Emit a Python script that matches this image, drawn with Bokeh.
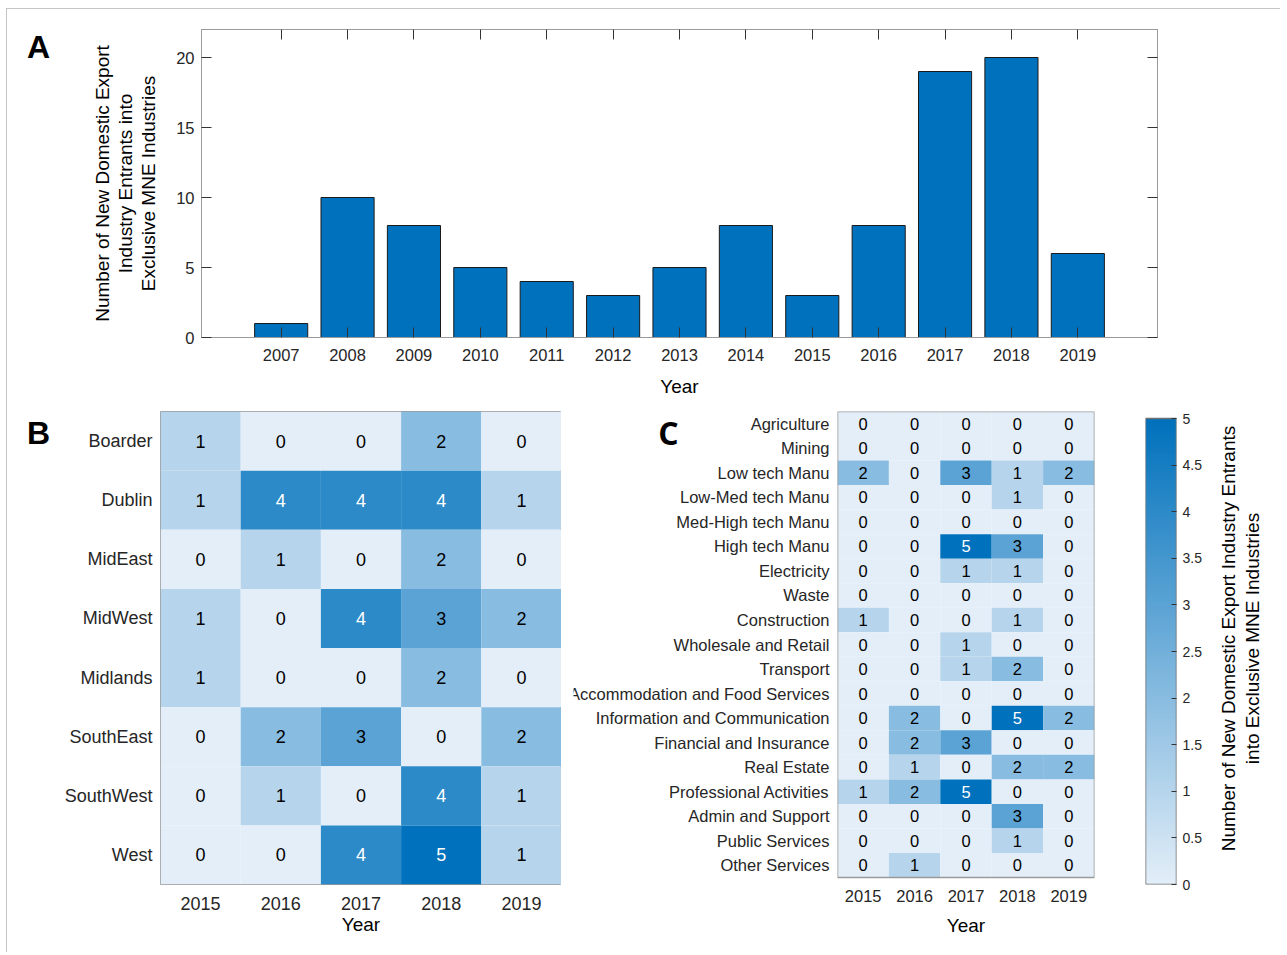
import numpy as np
from bokeh.plotting import figure
from bokeh.models import Range1d, FactorRange, LinearColorMapper, LinearAxis, ColumnDataSource, InlineStyleSheet
from bokeh.layouts import column, row
from bokeh.transform import transform
from bokeh.core.properties import value
from bokeh.embed import file_html
from bokeh.resources import INLINE

# ---------------- data ----------------
years_a = [2007, 2008, 2009, 2010, 2011, 2012, 2013, 2014, 2015, 2016, 2017, 2018, 2019]
entrants_a = [1, 10, 8, 5, 4, 3, 5, 8, 3, 8, 19, 20, 6]
yticks_a = [0, 5, 10, 15, 20]

years_bc = ["2015", "2016", "2017", "2018", "2019"]

regions = ["Boarder", "Dublin", "MidEast", "MidWest", "Midlands", "SouthEast", "SouthWest", "West"]
region_2015 = [1, 1, 0, 1, 1, 0, 0, 0]
region_2016 = [0, 4, 1, 0, 0, 2, 1, 0]
region_2017 = [0, 4, 0, 4, 0, 3, 0, 4]
region_2018 = [2, 4, 2, 3, 2, 0, 4, 5]
region_2019 = [0, 1, 0, 2, 0, 2, 1, 1]

industries = ["Agriculture", "Mining", "Low tech Manu", "Low-Med tech Manu", "Med-High tech Manu",
              "High tech Manu", "Electricity", "Waste", "Construction", "Wholesale and Retail",
              "Transport", "Accommodation and Food Services", "Information and Communication",
              "Financial and Insurance", "Real Estate", "Professional Activities",
              "Admin and Support", "Public Services", "Other Services"]
industry_2015 = [0, 0, 2, 0, 0, 0, 0, 0, 1, 0, 0, 0, 0, 0, 0, 1, 0, 0, 0]
industry_2016 = [0, 0, 0, 0, 0, 0, 0, 0, 0, 0, 0, 0, 2, 2, 1, 2, 0, 0, 1]
industry_2017 = [0, 0, 3, 0, 0, 5, 1, 0, 0, 1, 1, 0, 0, 3, 0, 5, 0, 0, 0]
industry_2018 = [0, 0, 1, 1, 0, 3, 1, 0, 1, 0, 2, 0, 5, 0, 2, 0, 3, 1, 0]
industry_2019 = [0, 0, 2, 0, 0, 0, 0, 0, 0, 0, 0, 0, 2, 0, 2, 0, 0, 0, 0]

cbar_low, cbar_high = 0, 5
cbar_ticks = [0, 0.5, 1, 1.5, 2, 2.5, 3, 3.5, 4, 4.5, 5]

# ---------------- styling ----------------
FONT = "Liberation Sans"
BAR = "#0072BD"
FRAME = "#9a9a9a"
TICK = "#333333"
LABEL = "#262626"
lo = np.array([227, 238, 248]); hi = np.array([0, 113, 188])
palette = ["#%02x%02x%02x" % tuple(int(round(v)) for v in lo + (hi - lo) * t) for t in np.linspace(0, 1, 256)]
mapper = LinearColorMapper(palette=palette, low=cbar_low, high=cbar_high)

ylabel = "Number of New Domestic Export\nIndustry Entrants into\nExclusive MNE Industries"
cblabel = "Number of New Domestic Export Industry Entrants\ninto Exclusive MNE Industries"


def base_fig(**kw):
    p = figure(output_backend="svg", toolbar_location=None, **kw)
    p.xgrid.visible = False
    p.ygrid.visible = False
    p.outline_line_color = FRAME
    p.outline_line_width = 1
    p.background_fill_color = "white"
    p.border_fill_color = "white"
    return p


def blank_fig(width, height, xr, yr, top, bottom, left=0, right=0):
    p = figure(output_backend="svg", toolbar_location=None, width=width, height=height,
               x_range=xr, y_range=yr, x_axis_location=None, y_axis_location=None,
               min_border_left=left, min_border_right=right, min_border_top=top, min_border_bottom=bottom)
    p.xgrid.visible = False
    p.ygrid.visible = False
    p.outline_line_color = None
    p.background_fill_color = "white"
    p.border_fill_color = "white"
    return p


def letter(p, x, y, text, font=FONT):
    p.text(x=[x], y=[y], text=[text], text_font=value(font), text_font_size="32px", text_font_style="bold",
           text_align="center", text_baseline="middle", text_color="#000000")


# ================= Row 1 : Panel A =================
A_H = 400
A_T, A_B = 29, 63
LA_W = 80
la = blank_fig(LA_W, A_H, Range1d(0, LA_W), Range1d(A_H - A_B, A_T), A_T, A_B)
letter(la, 38, 46, "A")

A_W = 1280 - LA_W
A_L, A_R = 201 - LA_W, 1280 - 1157
xr_a = (2005.8, 2020.2)
yr_a = (0, 22)
pa = base_fig(width=A_W, height=A_H, x_range=Range1d(*xr_a), y_range=Range1d(*yr_a),
              min_border_left=A_L, min_border_right=A_R, min_border_top=A_T, min_border_bottom=A_B)
pa.vbar(x=years_a, top=entrants_a, width=0.8, fill_color=BAR, line_color="#1a1a1a", line_width=1)

for ax in (pa.xaxis[0], pa.yaxis[0]):
    ax.axis_line_color = FRAME
    ax.major_tick_line_color = TICK
    ax.major_tick_in = 10
    ax.major_tick_out = 0
    ax.minor_tick_line_color = None
    ax.major_label_text_font = FONT
    ax.major_label_text_font_size = "16.5px"
    ax.major_label_text_color = LABEL
    ax.axis_label_text_font = FONT
    ax.axis_label_text_font_size = "19px"
    ax.axis_label_text_font_style = "normal"
    ax.axis_label_text_color = "#000000"
pa.xaxis.ticker = years_a
pa.yaxis.ticker = yticks_a
pa.xaxis.major_label_standoff = 11
pa.yaxis.major_label_standoff = 7
pa.xaxis.axis_label = "Year"
pa.xaxis.axis_label_standoff = 12
pa.yaxis.axis_label = ylabel
pa.yaxis.axis_label_standoff = 14
pa.yaxis.axis_label_text_line_height = 1.1

for side, ticks in (("above", years_a), ("right", yticks_a)):
    pa.add_layout(LinearAxis(ticker=ticks, major_label_text_font_size="1px", major_label_text_color=None,
                             major_label_standoff=0, axis_line_color=FRAME, major_tick_line_color=TICK,
                             major_tick_in=10, major_tick_out=0, minor_tick_line_color=None), side)

# ================= Row 2 =================
R_Y0 = 400
R_H = 552
F_TOP, F_BOT = 411, 884
R_T = F_TOP - R_Y0
R_B = R_Y0 + R_H - F_BOT


def style_axis(ax, font_size):
    ax.axis_line_color = None
    ax.major_tick_line_color = None
    ax.minor_tick_line_color = None
    ax.major_label_text_font = FONT
    ax.major_label_text_font_size = font_size
    ax.major_label_text_color = LABEL
    ax.axis_label_text_font = FONT
    ax.axis_label_text_font_size = "19px"
    ax.axis_label_text_font_style = "normal"
    ax.axis_label_text_color = "#000000"


def long_table(rows, cols, values_by_col, row_y):
    xs, ys, vals = [], [], []
    for c, colvals in zip(cols, values_by_col):
        for r, v in zip(rows, colvals):
            xs.append(c); ys.append(row_y[r]); vals.append(v)
    return ColumnDataSource(dict(x=xs, y=ys, v=vals, t=[str(v) for v in vals],
                                 tc=["#ffffff" if v >= 4 else "#000000" for v in vals]))


# ---- letter B ----
LB_W = 60
lb = blank_fig(LB_W, R_H, Range1d(0, LB_W), Range1d(F_BOT, F_TOP), R_T, R_B)
letter(lb, 38, 432, "B")

# ---- Panel B ----
B_X0 = LB_W
B_W = 561 - B_X0
pb = base_fig(width=B_W, height=R_H, x_range=FactorRange(factors=years_bc),
              y_range=FactorRange(factors=regions[::-1]),
              min_border_left=160 - B_X0, min_border_right=0, min_border_top=R_T, min_border_bottom=R_B)
src_b = long_table(regions, years_bc, [region_2015, region_2016, region_2017, region_2018, region_2019],
                   {r: r for r in regions})
pb.rect(x="x", y="y", width=1, height=1, source=src_b, fill_color=transform("v", mapper), line_color=None)
pb.text(x="x", y="y", text="t", source=src_b, text_color="tc", text_align="center", text_baseline="middle",
        text_font=value(FONT), text_font_size="18px")
style_axis(pb.xaxis[0], "18px")
style_axis(pb.yaxis[0], "18px")
pb.yaxis.major_label_standoff = 2
pb.xaxis.major_label_standoff = 6
pb.xaxis.axis_label = "Year"
pb.xaxis.axis_label_standoff = 1

# ---- Panel C (row labels + letter in their own frame, cells in another) ----
n_c = len(industries)
row_h_c = (877 - F_TOP) / n_c
extra_c = (F_BOT - 877) / row_h_c
yr_c = Range1d(-extra_c, n_c)
row_y_c = {name: n_c - 0.5 - i for i, name in enumerate(industries)}

LC_X0 = 561
LC_W = 837 - LC_X0
lc = blank_fig(LC_W, R_H, Range1d(573, 837), yr_c, R_T, R_B, left=573 - LC_X0)
lc.text(x=829, y=[row_y_c[n] for n in industries], text=industries, text_align="right", text_baseline="middle",
        text_font=value(FONT), text_font_size="16.5px", text_color=LABEL)
letter(lc, 668, n_c - (432 - F_TOP) / row_h_c, "C", "Open Sans")

PC_X0 = 837
PC_W = 1120 - PC_X0
pc = base_fig(width=PC_W, height=R_H, x_range=FactorRange(factors=years_bc), y_range=yr_c,
              min_border_left=0, min_border_right=1120 - 1094, min_border_top=R_T, min_border_bottom=R_B)
pc.yaxis.visible = False
pc.outline_line_color = None
src_c = long_table(industries, years_bc, [industry_2015, industry_2016, industry_2017, industry_2018, industry_2019],
                   row_y_c)
pc.rect(x="x", y="y", width=1, height=1, source=src_c, fill_color=transform("v", mapper), line_color=None)
pc.text(x="x", y="y", text="t", source=src_c, text_color="tc", text_align="center", text_baseline="middle",
        text_font=value(FONT), text_font_size="16.5px")
pc.quad(left=0, right=len(years_bc), bottom=0, top=n_c, fill_color=None, line_color=FRAME, line_width=1.5)
style_axis(pc.xaxis[0], "16.5px")
pc.xaxis.major_label_standoff = -1
pc.xaxis.axis_label = "Year"
pc.xaxis.axis_label_standoff = 10

# ---- Colour bar ----
K_X0 = 1120
K_W = 1215 - K_X0
extra_k = (418 - F_TOP) / (F_BOT - 418) * (cbar_high - cbar_low)
pk = base_fig(width=K_W, height=R_H, x_range=Range1d(0, 1), y_range=Range1d(cbar_low, cbar_high + extra_k),
              y_axis_location="right",
              min_border_left=1145 - K_X0, min_border_right=1215 - 1176, min_border_top=R_T, min_border_bottom=R_B)
pk.outline_line_color = None
ramp = np.linspace(cbar_low, cbar_high, 256).reshape(-1, 1)
pk.image(image=[ramp], x=0, y=cbar_low, dw=1, dh=cbar_high - cbar_low, color_mapper=mapper)
pk.quad(left=0, right=1, bottom=cbar_low, top=cbar_high, fill_color=None, line_color="#707070", line_width=1.5)
pk.xaxis.visible = False
ya = pk.yaxis[0]
ya.ticker = cbar_ticks
ya.major_label_overrides = {t: ("%g" % t) for t in cbar_ticks}
ya.axis_line_color = None
ya.major_tick_line_color = TICK
ya.major_tick_in = 5
ya.major_tick_out = 0
ya.minor_tick_line_color = None
ya.major_label_standoff = 6
ya.major_label_text_font = FONT
ya.major_label_text_font_size = "14px"
ya.major_label_text_color = LABEL

# ---- Colour bar title ----
T_X0 = 1215
T_W = 1280 - T_X0
pt = blank_fig(T_W, R_H, Range1d(T_X0, 1280), Range1d(F_BOT, F_TOP), R_T, R_B)
pt.text(x=[1240], y=[638], text=[cblabel], angle=np.pi / 2, text_align="center", text_baseline="middle",
        text_font=value(FONT), text_font_size="19px", text_color="#000000", text_line_height=1.15)

# thin page frame line (top and left) as in the reference image
frame_css = InlineStyleSheet(css=(
    ":host { position: relative; }"
    ":host::after { content: ''; position: absolute; left: 6px; top: 8px; right: 0; bottom: 0;"
    " border-top: 1px solid #c4c4c4; border-left: 1px solid #c4c4c4; pointer-events: none; z-index: 100; }"))

layout = column(row(la, pa, spacing=0), row(lb, pb, lc, pc, pk, pt, spacing=0), spacing=0,
                stylesheets=[frame_css])
open("out.html", "w").write(file_html(layout, INLINE))
